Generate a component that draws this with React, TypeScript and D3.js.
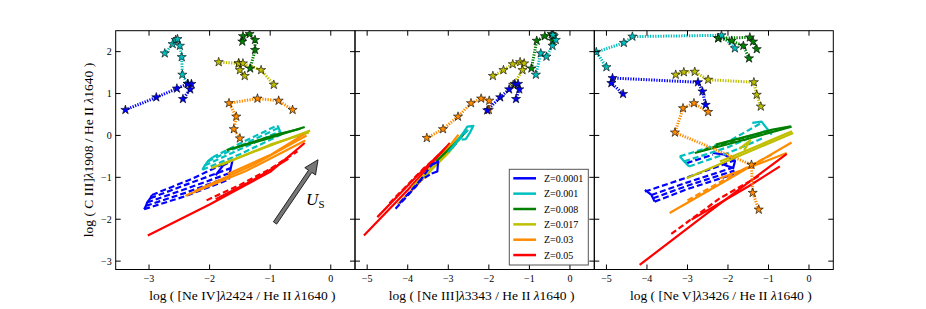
import React from 'react';
import * as d3 from 'd3';

const Z_LABELS = ['Z=0.0001', 'Z=0.001', 'Z=0.008', 'Z=0.017', 'Z=0.03', 'Z=0.05'];
const Z_COLORS = ['#0000ff', '#00bfbf', '#008000', '#bfbf00', '#ff8c00', '#ff0000'];

const X_TICKS_NEIV = [-3, -2, -1, 0];
const X_TICKS_NE = [-5, -4, -3, -2, -1, 0];
const Y_TICKS = [2, 1, 0, -1, -2, -3];

// star tracks: [z index, points]
const NEIV_STARS: [number, number[][]][] = [
  [0, [[-3.39, 0.61], [-2.88, 0.91], [-2.54, 1.12], [-2.36, 1.23], [-2.30, 1.23], [-2.32, 1.10], [-2.44, 0.87]]],
  [1, [[-2.74, 1.96], [-2.61, 2.18], [-2.56, 2.28], [-2.53, 2.30], [-2.49, 2.14], [-2.46, 1.87], [-2.45, 1.45], [-2.36, 1.23]]],
  [2, [[-1.33, 1.60], [-1.25, 2.04], [-1.25, 2.28], [-1.34, 2.42], [-1.45, 2.37], [-1.46, 2.24]]],
  [3, [[-1.42, 1.42], [-1.50, 1.56], [-1.52, 1.72], [-1.85, 1.75]]],
  [3, [[-1.52, 1.72], [-1.45, 1.72], [-1.15, 1.56], [-0.94, 1.21]]],
  [4, [[-1.50, -0.07], [-1.60, 0.15], [-1.56, 0.45], [-1.68, 0.77], [-1.21, 0.88], [-0.86, 0.83], [-0.63, 0.61]]],
];

const NEIII_STARS: [number, number[][]][] = [
  [0, [[-2.04, 0.60], [-1.72, 0.91], [-1.50, 1.10], [-1.36, 1.23], [-1.28, 1.23], [-1.25, 1.10], [-1.33, 0.87]]],
  [1, [[-0.84, 1.45], [-0.72, 1.96], [-0.58, 1.88], [-0.43, 2.14], [-0.35, 2.28], [-0.42, 2.40]]],
  [2, [[-0.95, 1.60], [-0.82, 2.26], [-0.62, 2.37], [-0.45, 2.42], [-0.40, 2.37], [-0.43, 2.26]]],
  [3, [[-1.90, 1.42], [-1.64, 1.56], [-1.41, 1.70], [-1.23, 1.75], [-1.13, 1.72], [-1.17, 1.56], [-1.40, 1.21]]],
  [4, [[-3.53, -0.06], [-3.13, 0.15], [-2.76, 0.45], [-2.44, 0.77], [-2.19, 0.88], [-1.99, 0.83], [-2.00, 0.61]]],
];

const NEV_STARS: [number, number[][]][] = [
  [0, [[-4.59, 0.99], [-4.88, 1.25], [-4.85, 1.37], [-2.74, 1.27], [-2.63, 1.05], [-2.55, 0.73]]],
  [1, [[-5.00, 1.63], [-5.25, 1.99], [-4.57, 2.21], [-4.36, 2.36], [-2.16, 2.39], [-1.83, 2.08]]],
  [2, [[-1.48, 1.84], [-1.62, 2.14], [-1.91, 2.26], [-2.24, 2.32]]],
  [2, [[-2.24, 2.32], [-1.46, 2.34], [-1.38, 2.24], [-1.29, 2.06]]],
  [3, [[-3.29, 1.45], [-3.09, 1.51], [-2.82, 1.52], [-2.49, 1.33], [-1.36, 1.27], [-1.29, 0.97], [-1.19, 0.69]]],
  [4, [[-2.49, 0.56], [-2.84, 0.77], [-3.11, 0.65], [-3.31, 0.07], [-1.42, -0.70], [-1.39, -1.37], [-1.24, -1.77]]],
];

// model grid lines: [z index, dashed, points]
const NEIV_GRID: [number, boolean, number[][]][] = [
  [0, true, [[-3.08, -1.76], [-2.4, -1.45], [-1.68, -1.05]]],
  [0, true, [[-3.05, -1.68], [-2.4, -1.37], [-1.67, -0.98]]],
  [0, true, [[-3.03, -1.60], [-2.4, -1.28], [-1.67, -0.90]]],
  [0, true, [[-2.98, -1.50], [-2.4, -1.18], [-1.65, -0.78]]],
  [0, true, [[-2.95, -1.42], [-2.3, -1.04], [-1.62, -0.58]]],
  [0, false, [[-3.08, -1.76], [-3.05, -1.68], [-3.03, -1.60], [-2.98, -1.50], [-2.95, -1.42]]],
  [0, false, [[-1.68, -1.05], [-1.67, -0.92], [-1.65, -0.78], [-1.62, -0.58]]],
  [0, false, [[-1.9, -0.95], [-1.78, -0.72], [-1.7, -0.66]]],
  [1, true, [[-2.12, -0.82], [-1.5, -0.45], [-0.82, 0.02]]],
  [1, true, [[-2.08, -0.72], [-1.5, -0.33], [-0.84, 0.10]]],
  [1, true, [[-2.03, -0.62], [-1.45, -0.22], [-0.86, 0.18]]],
  [1, true, [[-1.95, -0.52], [-1.4, -0.12], [-0.88, 0.24]]],
  [1, false, [[-2.12, -0.82], [-2.08, -0.72], [-2.03, -0.62], [-1.95, -0.52]]],
  [1, false, [[-0.82, 0.02], [-0.84, 0.10], [-0.86, 0.18], [-0.88, 0.24]]],
  [2, false, [[-1.72, -0.35], [-1.1, -0.10], [-0.43, 0.20]]],
  [2, false, [[-1.55, -0.28], [-0.9, 0.02], [-0.50, 0.16]]],
  [3, false, [[-1.97, -0.78], [-1.2, -0.35], [-0.34, 0.12]]],
  [3, false, [[-1.80, -0.70], [-1.0, -0.22], [-0.36, 0.07]]],
  [4, false, [[-2.40, -1.44], [-1.4, -0.85], [-0.42, -0.12]]],
  [4, false, [[-2.25, -1.33], [-1.3, -0.72], [-0.40, 0.0]]],
  [4, false, [[-1.70, -0.92], [-1.0, -0.47], [-0.44, 0.03]]],
  [5, false, [[-3.02, -2.39], [-2.0, -1.65], [-1.0, -0.87], [-0.43, -0.18]]],
  [5, true, [[-2.05, -1.55], [-1.5, -1.18], [-1.0, -0.80], [-0.55, -0.38]]],
  [5, false, [[-1.9, -1.52], [-1.3, -1.08], [-0.7, -0.56]]],
];

const NEIII_GRID: [number, boolean, number[][]][] = [
  [5, false, [[-5.08, -2.39], [-4.0, -1.30], [-2.96, -0.18]]],
  [5, false, [[-4.75, -1.95], [-3.8, -1.00], [-3.05, -0.28]]],
  [5, true, [[-4.45, -1.62], [-3.6, -0.78], [-3.1, -0.35]]],
  [4, false, [[-4.25, -1.65], [-3.5, -0.90], [-2.75, 0.02]]],
  [4, false, [[-4.0, -1.42], [-3.2, -0.58], [-2.85, -0.20]]],
  [3, false, [[-3.9, -1.25], [-3.2, -0.55], [-2.55, 0.14]]],
  [3, false, [[-3.65, -1.05], [-3.0, -0.42], [-2.65, 0.0]]],
  [2, false, [[-3.3, -0.62], [-2.9, -0.25], [-2.55, 0.10]]],
  [2, false, [[-2.96, -0.34], [-2.8, -0.18]]],
  [1, false, [[-3.0, -0.40], [-2.71, -0.05], [-2.53, 0.21], [-2.38, 0.23], [-2.47, 0.06], [-2.57, -0.09], [-2.67, -0.10]]],
  [1, true, [[-2.9, -0.30], [-2.59, 0.06], [-2.45, 0.18]]],
  [0, true, [[-4.30, -1.75], [-3.8, -1.22], [-3.41, -0.70], [-3.25, -0.62]]],
  [0, true, [[-4.2, -1.62], [-3.7, -1.08], [-3.41, -0.91]]],
  [0, false, [[-3.41, -0.70], [-3.25, -0.62], [-3.27, -0.86], [-3.41, -0.91]]],
];

const NEV_GRID: [number, boolean, number[][]][] = [
  [0, true, [[-4.05, -1.34], [-3.0, -1.00], [-1.79, -0.58]]],
  [0, true, [[-3.89, -1.42], [-3.0, -1.12], [-1.82, -0.75]]],
  [0, true, [[-3.85, -1.50], [-3.0, -1.20], [-1.84, -0.84]]],
  [0, true, [[-3.81, -1.58], [-3.0, -1.28], [-1.85, -0.92]]],
  [0, false, [[-4.05, -1.30], [-3.89, -1.42], [-3.81, -1.58]]],
  [0, false, [[-2.37, -0.42], [-2.08, -0.46], [-1.83, -0.62], [-1.87, -0.78], [-2.1, -0.70]]],
  [0, true, [[-3.02, -0.66], [-2.37, -0.46]]],
  [1, true, [[-3.19, -0.50], [-2.0, -0.15], [-1.17, 0.30]]],
  [1, true, [[-3.08, -0.62], [-2.0, -0.28], [-1.05, 0.12]]],
  [1, true, [[-2.96, -0.74], [-2.0, -0.42], [-1.1, -0.05]]],
  [1, false, [[-3.19, -0.50], [-3.08, -0.62], [-2.96, -0.74]]],
  [1, false, [[-1.4, 0.30], [-1.17, 0.33], [-0.92, 0.02]]],
  [2, false, [[-2.82, -0.42], [-1.5, -0.08], [-0.43, 0.21]]],
  [2, false, [[-2.3, -0.22], [-1.2, 0.06], [-0.9, 0.14], [-0.45, 0.22]]],
  [2, true, [[-2.6, -0.35], [-1.6, -0.05], [-1.0, 0.10]]],
  [3, false, [[-3.02, -1.02], [-1.7, -0.48], [-0.39, 0.06]]],
  [3, false, [[-2.2, -0.62], [-1.2, -0.22], [-0.42, 0.10]]],
  [3, false, [[-1.72, -0.32], [-1.45, -0.12], [-1.6, -0.35]]],
  [4, false, [[-3.44, -1.85], [-2.0, -1.05], [-0.43, -0.17]]],
  [4, false, [[-2.20, -1.02], [-1.3, -0.70], [-0.55, -0.42]]],
  [4, true, [[-3.0, -1.55], [-1.8, -0.90], [-0.9, -0.45]]],
  [5, false, [[-4.18, -3.09], [-2.5, -1.85], [-0.55, -0.44]]],
  [5, false, [[-2.90, -2.01], [-1.5, -1.22], [-0.72, -0.74]]],
  [5, true, [[-3.4, -2.35], [-2.2, -1.50], [-1.2, -0.95]]],
];

const ARROW = [[-0.92, -2.09], [-0.21, -0.58]];

const FONT = "'Liberation Serif', 'Times New Roman', serif";
const TOP = 30.7, BOTTOM = 269.5;

const panels = [
  { x0: 115.7, x1: 355, domain: [-3.55, 0.4], ticks: X_TICKS_NEIV, stars: NEIV_STARS, grid: NEIV_GRID, ion: '[Ne IV]', wl: '2424' },
  { x0: 355, x1: 594.3, domain: [-5.3, 0.6], ticks: X_TICKS_NE, stars: NEIII_STARS, grid: NEIII_GRID, ion: '[Ne III]', wl: '3343' },
  { x0: 594.3, x1: 833.3, domain: [-5.3, 0.6], ticks: X_TICKS_NE, stars: NEV_STARS, grid: NEV_GRID, ion: '[Ne V]', wl: '3426' },
];

const fmt = (v: number) => (v < 0 ? '\u2212' + Math.abs(v) : String(v));

const App = () => {
  const y = d3.scaleLinear().domain([-3.2, 2.5]).range([BOTTOM, TOP]);
  const star = d3.symbol(d3.symbolStar, 26)() as string;

  return (
    <svg width={926} height={309} style={{ position: 'absolute', left: 0, top: 0, background: '#fff' }}
      fontFamily={FONT}>
      {panels.map((p, pi) => {
        const x = d3.scaleLinear().domain(p.domain).range([p.x0, p.x1]);
        const line = d3.line<number[]>().x(d => x(d[0])).y(d => y(d[1]));
        const markers = p.stars.slice().sort((a, b) => b[0] - a[0]);
        let arrow = null;
        if (pi === 0) {
          const [sx, sy] = [x(ARROW[0][0]), y(ARROW[0][1])];
          const [ex, ey] = [x(ARROW[1][0]), y(ARROW[1][1])];
          const len = Math.hypot(ex - sx, ey - sy);
          const ux = (ex - sx) / len, uy = (ey - sy) / len;
          const nx = -uy, ny = ux;
          const hl = 14, hw = 6.5, sw = 2;
          const bx = ex - ux * hl, by = ey - uy * hl;
          const pts = [
            [sx + nx * sw, sy + ny * sw], [bx + nx * sw, by + ny * sw], [bx + nx * hw, by + ny * hw],
            [ex, ey], [bx - nx * hw, by - ny * hw], [bx - nx * sw, by - ny * sw], [sx - nx * sw, sy - ny * sw],
          ];
          arrow = <polygon points={pts.map(q => q.join(',')).join(' ')} fill="#777" stroke="#000" strokeWidth={0.8} />;
        }
        return (
          <g key={pi}>
            <defs>
              <clipPath id={`clip${pi}`}>
                <rect x={p.x0} y={TOP} width={p.x1 - p.x0} height={BOTTOM - TOP} />
              </clipPath>
            </defs>
            <g clipPath={`url(#clip${pi})`}>
              {p.grid.map(([z, dashed, pts], i) => (
                <path key={'g' + i} d={line(pts) as string} fill="none" stroke={Z_COLORS[z]}
                  strokeWidth={2.2} strokeDasharray={dashed ? '6,3' : undefined} strokeLinejoin="round" />
              ))}
              {p.stars.map(([z, pts], i) => (
                <path key={'s' + i} d={line(pts) as string} fill="none" stroke={Z_COLORS[z]}
                  strokeWidth={3} strokeDasharray="1.3,1.3" />
              ))}
              {markers.map(([z, pts], i) => pts.map((d, j) => (
                <path key={'m' + i + '_' + j} d={star} transform={`translate(${x(d[0])},${y(d[1])})`}
                  fill={Z_COLORS[z]} stroke="#000" strokeWidth={0.6} />
              )))}
              {arrow}
            </g>
            <rect x={p.x0} y={TOP} width={p.x1 - p.x0} height={BOTTOM - TOP} fill="none" stroke="#000" strokeWidth={1} />
            {p.ticks.map(t => (
              <g key={'xt' + t}>
                <line x1={x(t)} x2={x(t)} y1={BOTTOM} y2={BOTTOM - 5} stroke="#000" strokeWidth={1} />
                <line x1={x(t)} x2={x(t)} y1={TOP} y2={TOP + 5} stroke="#000" strokeWidth={1} />
                <text x={x(t)} y={BOTTOM + 12.5} fontSize={10} textAnchor="middle">{fmt(t)}</text>
              </g>
            ))}
            {Y_TICKS.map(t => (
              <g key={'yt' + t}>
                <line x1={p.x0} x2={p.x0 + 5} y1={y(t)} y2={y(t)} stroke="#000" strokeWidth={1} />
                <line x1={p.x1} x2={p.x1 - 5} y1={y(t)} y2={y(t)} stroke="#000" strokeWidth={1} />
                {pi === 0 && (
                  <text x={p.x0 - 4} y={y(t) + 3.5} fontSize={10} textAnchor="end">{fmt(t)}</text>
                )}
              </g>
            ))}
            <text x={(p.x0 + p.x1) / 2 + 7} y={300} fontSize={13.5} textAnchor="middle">
              {'log ( ' + p.ion}<tspan fontStyle="italic">λ</tspan>{p.wl + ' / He II '}
              <tspan fontStyle="italic">λ</tspan>{'1640 )'}
            </text>
          </g>
        );
      })}
      {/* U_S label */}
      <text x={306} y={205} fontSize={17} fontStyle="italic">U</text>
      <text x={318.5} y={207.5} fontSize={11}>S</text>
      {/* y label */}
      <text transform="translate(93,150) rotate(-90)" fontSize={13.5} textAnchor="middle">
        {'log ( C III]'}<tspan fontStyle="italic">λ</tspan>{'1908 / He II '}
        <tspan fontStyle="italic">λ</tspan>{'1640 )'}
      </text>
      {/* legend */}
      <g>
        <rect x={509.3} y={169.3} width={79} height={95.7} fill="#fff" stroke="#555" strokeWidth={1} />
        {Z_LABELS.map((lab, i) => (
          <g key={lab}>
            <line x1={513.3} x2={536} y1={178.3 + i * 15.35} y2={178.3 + i * 15.35} stroke={Z_COLORS[i]} strokeWidth={2.5} />
            <text x={544} y={178.3 + i * 15.35 + 3.5} fontSize={10}>{lab}</text>
          </g>
        ))}
      </g>
    </svg>
  );
};

export default App;
